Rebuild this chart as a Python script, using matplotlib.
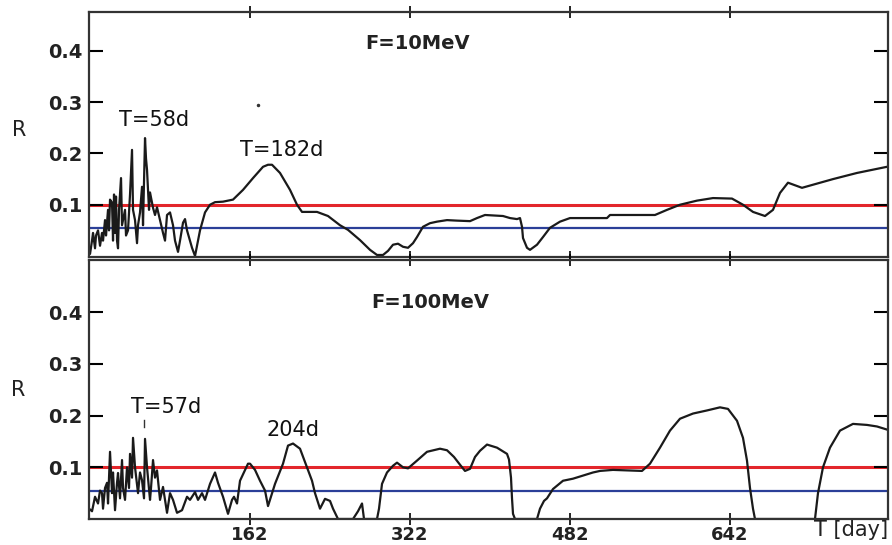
import matplotlib.pyplot as plt

# F = 10 MeV panel (day, R)
top_days = [1, 2, 4, 5, 7, 8, 10, 12, 14, 15, 17, 18, 20, 21, 22, 24, 25, 26, 27, 28,
            29, 30, 31, 33, 34, 35, 37, 38, 40, 42, 44, 45, 47, 49, 50, 52, 54, 55, 57,
            58, 59, 61, 62, 65, 67, 69, 72, 75, 77, 79, 82, 85, 87, 90, 92, 95, 97, 99,
            102, 104, 107, 110, 112, 117, 122, 127, 135, 145, 155, 165, 175, 180, 184,
            192, 202, 209, 214, 229, 240, 252, 260, 272, 282, 289, 295, 300, 305, 310,
            315, 320, 325, 329, 335, 342, 349, 359, 369, 382, 389, 397, 415, 422, 429,
            432, 434, 435, 439, 442, 449, 455, 462, 472, 482, 502, 519, 522, 567, 579,
            592, 609, 625, 644, 655, 665, 677, 685, 692, 700, 714, 725, 745, 769, 799]
top_r = [0.008, 0.004, 0.03, 0.045, 0.015, 0.04, 0.05, 0.02, 0.045, 0.03, 0.07, 0.04, 0.09, 0.05,
         0.11, 0.104, 0.03, 0.12, 0.045, 0.116, 0.03, 0.015, 0.09, 0.152, 0.06, 0.07, 0.09, 0.04,
         0.05, 0.12, 0.207, 0.09, 0.07, 0.025, 0.06, 0.085, 0.135, 0.06, 0.23, 0.19, 0.168, 0.09,
         0.124, 0.094, 0.08, 0.095, 0.07, 0.045, 0.03, 0.08, 0.085, 0.06, 0.03, 0.008, 0.03,
         0.065, 0.072, 0.05, 0.03, 0.016, 0.0, 0.03, 0.05, 0.085, 0.1, 0.105, 0.106, 0.11, 0.129,
         0.152, 0.174, 0.178, 0.178, 0.162, 0.129, 0.1, 0.086, 0.086, 0.078, 0.06, 0.051, 0.031,
         0.012, 0.002, 0.002, 0.01, 0.022, 0.024, 0.018, 0.016, 0.025, 0.037, 0.057, 0.064, 0.067,
         0.07, 0.069, 0.068, 0.074, 0.08, 0.078, 0.074, 0.072, 0.074, 0.057, 0.035, 0.016, 0.012,
         0.022, 0.037, 0.055, 0.067, 0.074, 0.074, 0.074, 0.08, 0.08, 0.09, 0.1, 0.108, 0.113,
         0.112, 0.1, 0.086, 0.078, 0.09, 0.123, 0.143, 0.133, 0.139, 0.15, 0.162, 0.174]

# F = 100 MeV panel (day, R)
bot_days = [1, 4, 7, 10, 12, 14, 15, 17, 19, 20, 22, 24, 25, 27, 29, 30, 32, 34, 35, 37, 39,
            41, 42, 44, 45, 47, 50, 52, 54, 56, 57, 59, 62, 63, 65, 67, 69, 72, 75, 79, 82,
            85, 89, 94, 99, 102, 107, 110, 114, 117, 122, 127, 130, 135, 140, 144, 146,
            149, 152, 160, 162, 167, 172, 177, 180, 187, 195, 200, 205, 212, 219, 224, 227,
            232, 237, 242, 245, 250, 265, 270, 274, 276, 289, 291, 294, 299, 305, 309, 315,
            320, 329, 339, 352, 359, 366, 372, 377, 382, 387, 392, 399, 409, 419, 421, 423,
            424, 425, 427, 449, 452, 456, 459, 465, 475, 485, 495, 505, 512, 525, 554, 562,
            572, 582, 592, 605, 619, 632, 640, 649, 655, 659, 662, 665, 667, 727, 730, 735,
            742, 752, 765, 779, 789, 799]
bot_r = [0.02, 0.015, 0.043, 0.03, 0.055, 0.05, 0.02, 0.06, 0.07, 0.03, 0.13, 0.05, 0.09, 0.017,
         0.07, 0.089, 0.04, 0.114, 0.06, 0.037, 0.1, 0.06, 0.126, 0.08, 0.157, 0.1, 0.05, 0.09,
         0.075, 0.04, 0.155, 0.1, 0.037, 0.06, 0.114, 0.08, 0.094, 0.037, 0.062, 0.012, 0.05,
         0.037, 0.012, 0.017, 0.043, 0.037, 0.052, 0.037, 0.05, 0.037, 0.068, 0.09, 0.07,
         0.043, 0.01, 0.037, 0.043, 0.03, 0.074, 0.107, 0.107, 0.095, 0.074, 0.055, 0.025,
         0.068, 0.107, 0.142, 0.146, 0.136, 0.1, 0.074, 0.05, 0.02, 0.039, 0.035, 0.02, 0.0, 0.0,
         0.015, 0.03, 0.0, 0.0, 0.02, 0.068, 0.09, 0.103, 0.109, 0.1, 0.098, 0.113, 0.13, 0.136,
         0.133, 0.12, 0.105, 0.093, 0.097, 0.12, 0.132, 0.144, 0.138, 0.126, 0.115, 0.08, 0.04,
         0.01, 0.0, 0.0, 0.02, 0.035, 0.04, 0.058, 0.074, 0.078, 0.084, 0.09, 0.093, 0.095,
         0.093, 0.107, 0.138, 0.171, 0.194, 0.204, 0.21, 0.216, 0.213, 0.19, 0.157, 0.113, 0.06,
         0.02, 0.0, 0.0, 0.05, 0.1, 0.138, 0.171, 0.184, 0.182, 0.179, 0.173]

red_level = 0.1
blue_level = 0.055
xticks = [162, 322, 482, 642]
yticks = [0.1, 0.2, 0.3, 0.4]

fig = plt.figure(figsize=(8.92, 5.45), dpi=100)
ax1 = fig.add_axes([0.0998, 0.5284, 0.8957, 0.4496])
ax2 = fig.add_axes([0.0998, 0.0477, 0.8957, 0.4752])

panels = [
    (ax1, top_days, top_r, (-0.002, 0.476), "F=10MeV", 330, 0.415),
    (ax2, bot_days, bot_r, (0.0, 0.501), "F=100MeV", 342, 0.418),
]
for ax, d, r, ylim, title, tx, ty in panels:
    ax.axhline(red_level, color="#e3262b", lw=2.2, zorder=1)
    ax.axhline(blue_level, color="#2b3f98", lw=1.6, zorder=1)
    ax.plot(d, r, color="#1a1a1a", lw=1.6, zorder=2)
    ax.set_xlim(1, 800)
    ax.set_ylim(*ylim)
    ax.set_xticks(xticks)
    ax.set_yticks(yticks)
    ax.set_yticklabels(["0.1", "0.2", "0.3", "0.4"], fontsize=14, fontweight="bold", color="#222222")
    ax.tick_params(axis="y", direction="in", length=10, width=1.5, right=True, pad=5)
    ax.tick_params(axis="x", direction="inout", length=8, width=1.2, top=True, pad=1)
    for s in ax.spines.values():
        s.set_linewidth(1.6)
        s.set_color("#333333")
    ax.text(tx, ty, title, fontsize=14, fontweight="bold",
            ha="center", va="center", color="#222222")

ax1.set_xticklabels([])
ax2.set_xticklabels([str(t) for t in xticks], fontsize=13, fontweight="bold", color="#222222")

ax1.text(66, 0.266, "T=58d", fontsize=15, ha="center", va="center", color="#111111")
ax1.text(194, 0.207, "T=182d", fontsize=15, ha="center", va="center", color="#111111")
ax1.plot([170], [0.295], marker="o", ms=1.5, color="#333333")
ax2.text(78, 0.217, "T=57d", fontsize=15, ha="center", va="center", color="#111111")
ax2.text(205, 0.172, "204d", fontsize=15, ha="center", va="center", color="#111111")
ax2.plot([56, 56], [0.178, 0.192], color="#333333", lw=1)

fig.text(0.022, 1 - 130 / 545, "R", fontsize=15, ha="center", va="center", color="#222222")
fig.text(0.020, 1 - 390 / 545, "R", fontsize=15, ha="center", va="center", color="#222222")
fig.text(888 / 892, 1 - 530 / 545, "T [day]", fontsize=15, ha="right", va="center", color="#222222")

fig.savefig("out.png", dpi=100)
